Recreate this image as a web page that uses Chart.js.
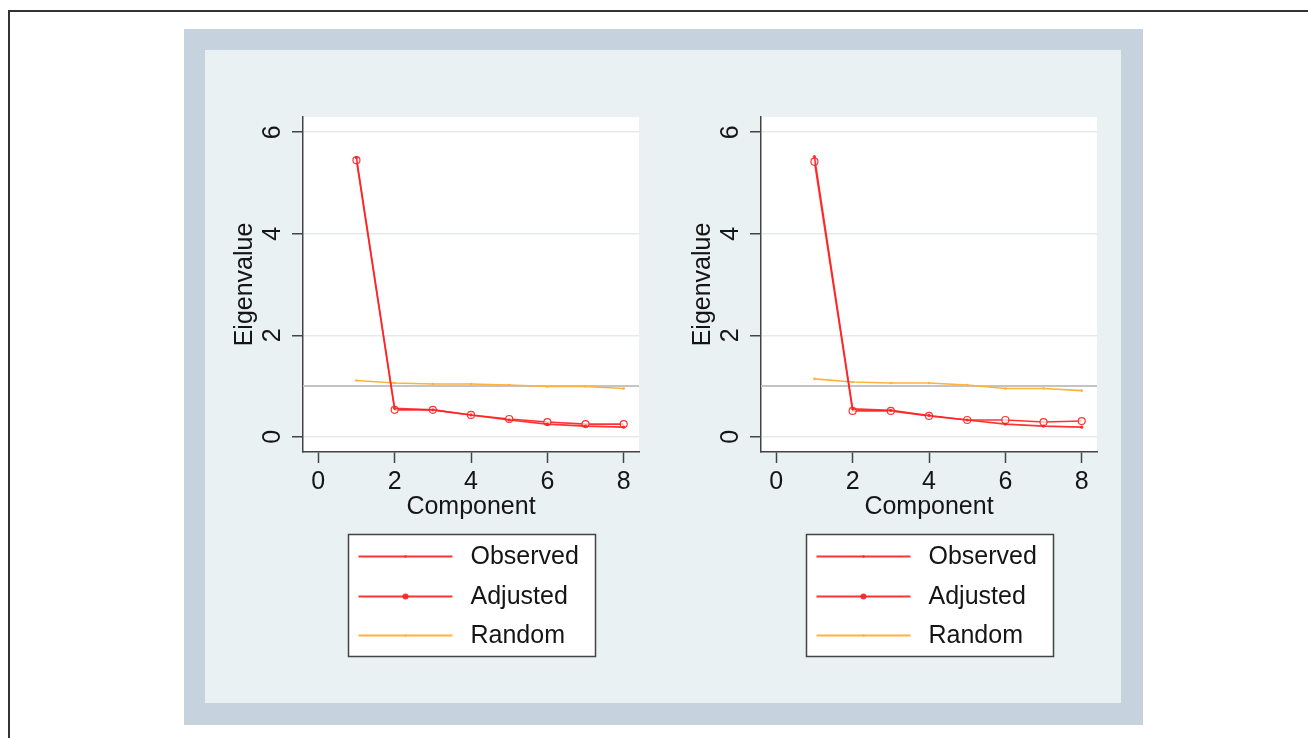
<!DOCTYPE html>
<html>
<head>
<meta charset="utf-8">
<script src="https://cdn.jsdelivr.net/npm/chart.js@4.4.0/dist/chart.umd.min.js"></script>
<style>
html,body{margin:0;padding:0;background:#fff;width:1308px;height:738px;overflow:hidden;position:relative;}
#outer{position:absolute;left:8px;top:10px;width:1400px;height:800px;border-left:2px solid #333;border-top:2px solid #333;}
#frame{position:absolute;left:184px;top:29px;width:959px;height:696px;background:#c6d2de;}
#panel{position:absolute;left:205px;top:50px;width:916px;height:653px;background:#e9f1f3;}
canvas{position:absolute;top:50px;}
#c1{left:205px;}
#c2{left:663px;}
</style>
</head>
<body>
<div id="outer"></div>
<div id="frame"></div>
<div id="panel"></div>
<canvas id="c1" width="458" height="653"></canvas>
<canvas id="c2" width="458" height="653"></canvas>
<script>
// ---- data ----
const components = [1, 2, 3, 4, 5, 6, 7, 8];
const seriesNames = ['Observed', 'Adjusted', 'Random'];
const leftObserved = [5.50, 0.56, 0.53, 0.43, 0.33, 0.25, 0.21, 0.19];
const leftAdjusted = [5.45, 0.53, 0.53, 0.43, 0.35, 0.29, 0.25, 0.25];
const leftRandom   = [1.11, 1.06, 1.04, 1.04, 1.02, 0.99, 0.99, 0.95];
const rightObserved = [5.52, 0.55, 0.52, 0.42, 0.33, 0.25, 0.21, 0.19];
const rightAdjusted = [5.42, 0.51, 0.51, 0.41, 0.33, 0.33, 0.29, 0.31];
const rightRandom   = [1.14, 1.08, 1.06, 1.06, 1.02, 0.95, 0.95, 0.91];
const xTickValues = [0, 2, 4, 6, 8];
const yTickValues = [0, 2, 4, 6];
const referenceLine = 1;
const xTitle = 'Component';
const yTitle = 'Eigenvalue';

const FONT = 'Liberation Sans, Arial, sans-serif';
const FS = 25;
const RED = 'rgba(255,35,35,0.92)';
const ORANGE = '#ffb23c';
const DARK = '#444';
const TEXT = '#151515';

function toPoints(vals){ return components.map((c, i) => ({x: c, y: vals[i]})); }

const bgPlugin = {
  id: 'bg',
  beforeDraw(chart){
    const {ctx, chartArea: a} = chart;
    ctx.save(); ctx.fillStyle = '#ffffff';
    ctx.fillRect(a.left, a.top, a.right - a.left, a.bottom - a.top);
    ctx.restore();
  },
  beforeDatasetsDraw(chart){
    const {ctx, chartArea: a, scales} = chart;
    const y = scales.y.getPixelForValue(referenceLine);
    ctx.save(); ctx.strokeStyle = '#c4c4c4'; ctx.lineWidth = 2;
    ctx.beginPath(); ctx.moveTo(a.left, y); ctx.lineTo(a.right, y); ctx.stroke();
    ctx.restore();
  }
};

const legendPlugin = {
  id: 'boxLegend',
  afterDraw(chart){
    const {ctx, chartArea: a} = chart;
    const cx = (a.left + a.right) / 2;
    const w = 247, h = 122;
    const left = Math.round(cx - 123.5) + 0.5, top = a.bottom + 82.5;
    ctx.save();
    ctx.fillStyle = '#fff'; ctx.fillRect(left, top, w, h);
    ctx.strokeStyle = DARK; ctx.lineWidth = 1.5; ctx.strokeRect(left, top, w, h);
    const rows = [22, 62, 101];
    chart.data.datasets.forEach((ds, i) => {
      const y = top + rows[i];
      ctx.strokeStyle = ds.borderColor; ctx.lineWidth = 2;
      ctx.beginPath(); ctx.moveTo(left + 10, y); ctx.lineTo(left + 104, y); ctx.stroke();
      ctx.fillStyle = ds.borderColor;
      ctx.beginPath(); ctx.arc(left + 57, y, i === 1 ? 3 : 1.3, 0, Math.PI * 2); ctx.fill();
      ctx.fillStyle = TEXT; ctx.font = FS + 'px ' + FONT;
      ctx.textBaseline = 'middle'; ctx.textAlign = 'left';
      ctx.fillText(ds.label, left + 122, y + 1);
    });
    ctx.restore();
  }
};

function makeChart(id, obs, adj, rnd){
  return new Chart(document.getElementById(id), {
    type: 'line',
    data: {
      datasets: [
        {label: seriesNames[0], data: toPoints(obs), borderColor: RED, backgroundColor: RED,
         borderWidth: 1.6, pointRadius: 1.6, pointBorderWidth: 0, tension: 0},
        {label: seriesNames[1], data: toPoints(adj), borderColor: RED, backgroundColor: 'rgba(255,255,255,0.7)',
         borderWidth: 1.6, pointRadius: 3.5, pointBorderColor: RED, pointBorderWidth: 1.2, tension: 0},
        {label: seriesNames[2], data: toPoints(rnd), borderColor: ORANGE, backgroundColor: ORANGE,
         borderWidth: 1.6, pointRadius: 1.3, pointBorderWidth: 0, tension: 0}
      ]
    },
    options: {
      responsive: false, animation: false, devicePixelRatio: 1,
      layout: {padding: {top: 67, right: 24, left: 0, bottom: 0}},
      plugins: {legend: {display: false}, tooltip: {enabled: false}},
      scales: {
        x: {
          type: 'linear', min: -0.4, max: 8.4,
          afterBuildTicks: s => { s.ticks = xTickValues.map(v => ({value: v})); },
          afterFit: s => { s.height = 251; },
          grid: {drawOnChartArea: false, drawTicks: true, tickLength: 11, tickColor: DARK, tickWidth: 1.5},
          border: {display: true, color: DARK, width: 1.5},
          ticks: {font: {family: FONT, size: FS}, color: TEXT, padding: 4, maxRotation: 0, minRotation: 0},
          title: {display: true, text: xTitle, font: {family: FONT, size: FS}, color: TEXT, padding: {top: 0, bottom: 181}}
        },
        y: {
          type: 'linear', min: -0.3, max: 6.3,
          afterBuildTicks: s => { s.ticks = yTickValues.map(v => ({value: v})); },
          afterFit: s => { s.width = 98; },
          grid: {drawOnChartArea: true, color: '#e3ebef', lineWidth: 1.5, drawTicks: true, tickLength: 11, tickColor: DARK, tickWidth: 1.5},
          border: {display: true, color: DARK, width: 1.5},
          ticks: {font: {family: FONT, size: FS}, color: TEXT, padding: 12, minRotation: 90, maxRotation: 90, crossAlign: 'center'},
          title: {display: true, text: yTitle, font: {family: FONT, size: FS}, color: TEXT, padding: {top: 25, bottom: 0}}
        }
      }
    },
    plugins: [bgPlugin, legendPlugin]
  });
}

makeChart('c1', leftObserved, leftAdjusted, leftRandom);
makeChart('c2', rightObserved, rightAdjusted, rightRandom);
</script>
</body>
</html>
